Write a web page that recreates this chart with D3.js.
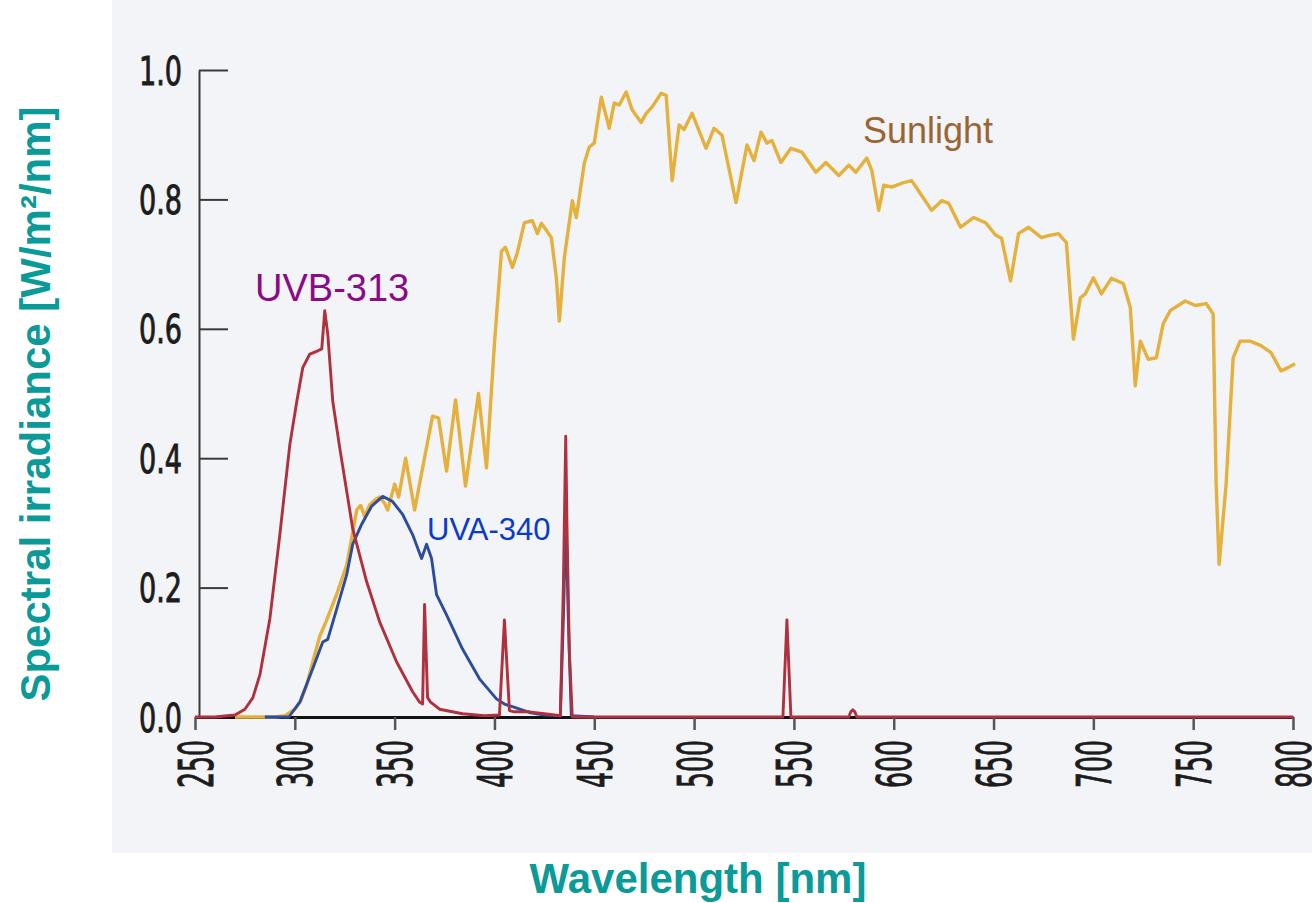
<!DOCTYPE html>
<html>
<head>
<meta charset="utf-8">
<script src="https://cdn.jsdelivr.net/npm/d3@7"></script>
<style>
  html, body { margin: 0; padding: 0; background: #fff; }
  svg { display: block; }
  .tick-label { font-family: "Liberation Sans Narrow", "DejaVu Sans Condensed", "Arial Narrow", sans-serif; font-weight: normal; fill: #1c1c1c; stroke: #1c1c1c; stroke-width: 0.9px; }
  .axis-title { font-family: "Liberation Sans", Arial, sans-serif; font-weight: bold; fill: #0a9a97; }
  .series-label { font-family: "Liberation Sans", Arial, sans-serif; }
</style>
</head>
<body>
<div id="chart"></div>
<script>
// sunlight spectrum
var sunWavelength = [270, 290, 295, 300, 303, 306, 309, 312.5, 316, 321, 326, 329, 331, 333, 335, 337.5, 340, 342.5, 345, 346.5, 350, 352, 355.5, 360, 364, 369, 372, 376, 380.5, 385.5, 392, 396, 400, 403.5, 405.5, 409, 411.5, 415, 419, 421.5, 423.5, 428.5, 431, 432.5, 435, 439, 441, 445, 447.5, 450, 453.5, 457.5, 460, 462.5, 466, 469, 473.5, 476, 479, 483.5, 486, 489, 492.5, 495, 499, 506, 510, 514, 521, 526.5, 530, 533.5, 536.5, 539, 543.5, 548.5, 554, 561, 566, 572.5, 577.5, 581, 586.5, 589, 592.5, 595, 599, 604, 609, 614, 619, 624, 627.5, 633.5, 640, 646, 651, 654, 658.5, 662.5, 667.5, 674, 677.5, 682.5, 686.5, 690, 693.5, 696, 700, 704, 709, 715, 718.5, 721, 723.5, 727.5, 731.5, 735, 738.5, 746, 751, 756.5, 760, 761.5, 763, 766.5, 770, 773.5, 778.5, 784, 789, 794, 797.5, 801];
var sunIrradiance = [0, 0, 0.002, 0.012, 0.025, 0.05, 0.085, 0.125, 0.15, 0.19, 0.235, 0.285, 0.32, 0.327, 0.31, 0.328, 0.335, 0.34, 0.33, 0.32, 0.36, 0.34, 0.40, 0.32, 0.385, 0.465, 0.462, 0.38, 0.49, 0.357, 0.50, 0.385, 0.577, 0.72, 0.726, 0.695, 0.718, 0.764, 0.767, 0.747, 0.763, 0.741, 0.679, 0.612, 0.71, 0.798, 0.772, 0.856, 0.881, 0.887, 0.958, 0.91, 0.949, 0.946, 0.966, 0.938, 0.919, 0.933, 0.943, 0.964, 0.961, 0.829, 0.915, 0.908, 0.933, 0.879, 0.91, 0.899, 0.795, 0.884, 0.86, 0.904, 0.887, 0.891, 0.857, 0.879, 0.873, 0.842, 0.857, 0.837, 0.853, 0.842, 0.864, 0.845, 0.783, 0.822, 0.819, 0.825, 0.829, 0.806, 0.783, 0.798, 0.794, 0.757, 0.772, 0.764, 0.745, 0.74, 0.674, 0.747, 0.757, 0.741, 0.744, 0.747, 0.733, 0.584, 0.648, 0.654, 0.679, 0.654, 0.678, 0.67, 0.633, 0.512, 0.581, 0.553, 0.555, 0.608, 0.628, 0.643, 0.636, 0.639, 0.623, 0.36, 0.236, 0.36, 0.555, 0.581, 0.581, 0.574, 0.563, 0.535, 0.54, 0.546];

// UVA-340 lamp
var uvaWavelength = [285, 297, 302.5, 309, 314, 316.5, 321, 326, 329, 333.5, 338.5, 344, 349, 354, 359, 363.5, 366, 368.5, 371, 376, 384, 392.5, 401, 405, 409, 417.5, 425, 433, 434.5, 435.8, 437, 438.5, 450];
var uvaIrradiance = [0, 0, 0.023, 0.075, 0.116, 0.12, 0.167, 0.22, 0.267, 0.298, 0.326, 0.341, 0.333, 0.313, 0.282, 0.245, 0.267, 0.245, 0.189, 0.158, 0.105, 0.059, 0.028, 0.02, 0.016, 0.007, 0.003, 0.002, 0.15, 0.31, 0.15, 0.002, 0];

// UVB-313 lamp
var uvbWavelength = [250, 260, 270, 275, 279, 282.5, 287.5, 292.5, 297.5, 301, 304, 307.5, 311.5, 313.5, 315, 316.5, 319, 322.5, 329, 336, 342.5, 351, 359, 362.5, 364, 365, 366.5, 368, 372.5, 384, 395, 402.5, 405, 407.5, 410, 417.5, 425, 433, 434.5, 435.7, 436.3, 437.5, 439, 544.5, 546.5, 548.5, 577.5, 578.5, 579.5, 580.5, 581.5, 800];
var uvbIrradiance = [0, 0, 0.003, 0.012, 0.03, 0.065, 0.152, 0.282, 0.421, 0.488, 0.54, 0.561, 0.566, 0.569, 0.628, 0.592, 0.488, 0.416, 0.291, 0.209, 0.147, 0.085, 0.039, 0.023, 0.02, 0.174, 0.03, 0.023, 0.012, 0.005, 0.002, 0.003, 0.15, 0.01, 0.008, 0.008, 0.005, 0.002, 0.2, 0.434, 0.3, 0.1, 0, 0, 0.15, 0, 0, 0.008, 0.011, 0.008, 0, 0];

var xTicks = [250, 300, 350, 400, 450, 500, 550, 600, 650, 700, 750, 800];
var yTicks = [0, 0.2, 0.4, 0.6, 0.8, 1.0];

var seriesNames = ["Sunlight", "UVA-340", "UVB-313"];
var seriesColors = ["#e5b03c", "#2c4c9e", "#b0303e"];
var labelColors = ["#9b6532", "#0a3bc8", "#8a0a8a"];

var width = 1312, height = 903;

var svg = d3.select("#chart").append("svg")
  .attr("width", width)
  .attr("height", height);

// scanned page background
svg.append("rect")
  .attr("x", 112).attr("y", 0)
  .attr("width", width - 112).attr("height", 853)
  .attr("fill", "#f2f4f7");

var x = d3.scaleLinear().domain([250, 800]).range([195, 1293]);
var y = d3.scaleLinear().domain([0, 1]).range([717, 70]);

// y axis
var yAxis = svg.append("g")
  .attr("transform", "translate(199,0)")
  .call(d3.axisLeft(y).tickValues(yTicks).tickSize(-29).tickSizeOuter(0).tickPadding(17)
    .tickFormat(d3.format(".1f")));
yAxis.select(".domain").attr("stroke", "#3a3a3a").attr("stroke-width", 2);
yAxis.selectAll(".tick line").attr("stroke", "#3a3a3a").attr("stroke-width", 2);
yAxis.selectAll(".tick text")
  .attr("class", "tick-label")
  .attr("font-size", 39)
  .attr("dy", "0.36em")
  .attr("textLength", 43)
  .attr("lengthAdjust", "spacingAndGlyphs");

// x axis
var xAxis = svg.append("g")
  .attr("transform", "translate(0," + y(0) + ")")
  .call(d3.axisBottom(x).tickValues(xTicks).tickSize(13).tickSizeOuter(0));
xAxis.select(".domain").attr("stroke", "#111").attr("stroke-width", 3);
xAxis.selectAll(".tick line").attr("stroke", "#555").attr("stroke-width", 2.5);
xAxis.selectAll(".tick text")
  .attr("class", "tick-label")
  .attr("font-size", 48)
  .attr("x", 0).attr("y", 0).attr("dy", 0)
  .attr("text-anchor", "end")
  .attr("transform", "translate(17,23) rotate(-90)")
  .attr("textLength", 48)
  .attr("lengthAdjust", "spacingAndGlyphs");

var line = d3.line()
  .x(function (d) { return x(d[0]); })
  .y(function (d) { return y(d[1]); });

function pairs(xs, ys) {
  return xs.map(function (v, i) { return [v, ys[i]]; });
}

var series = [
  { data: pairs(sunWavelength, sunIrradiance), width: 3.4 },
  { data: pairs(uvaWavelength, uvaIrradiance), width: 2.9 },
  { data: pairs(uvbWavelength, uvbIrradiance), width: 2.9 }
];

svg.selectAll(".series")
  .data(series)
  .enter()
  .append("path")
  .attr("class", "series")
  .attr("fill", "none")
  .attr("stroke", function (d, i) { return seriesColors[i]; })
  .attr("stroke-width", function (d) { return d.width; })
  .attr("stroke-linejoin", "round")
  .attr("d", function (d) { return line(d.data); });

// series labels
var labelPos = [
  { x: 863, y: 143, size: 36 },
  { x: 427, y: 540, size: 31 },
  { x: 255, y: 301, size: 38 }
];
svg.selectAll(".series-label")
  .data(seriesNames)
  .enter()
  .append("text")
  .attr("class", "series-label")
  .attr("x", function (d, i) { return labelPos[i].x; })
  .attr("y", function (d, i) { return labelPos[i].y; })
  .attr("font-size", function (d, i) { return labelPos[i].size; })
  .attr("fill", function (d, i) { return labelColors[i]; })
  .text(function (d) { return d; });

// axis titles
svg.append("text")
  .attr("class", "axis-title")
  .attr("font-size", 42)
  .attr("text-anchor", "middle")
  .attr("transform", "translate(50,404) rotate(-90)")
  .text("Spectral irradiance [W/m²/nm]");

svg.append("text")
  .attr("class", "axis-title")
  .attr("font-size", 42)
  .attr("text-anchor", "middle")
  .attr("x", 698)
  .attr("y", 893)
  .text("Wavelength [nm]");
</script>
</body>
</html>
